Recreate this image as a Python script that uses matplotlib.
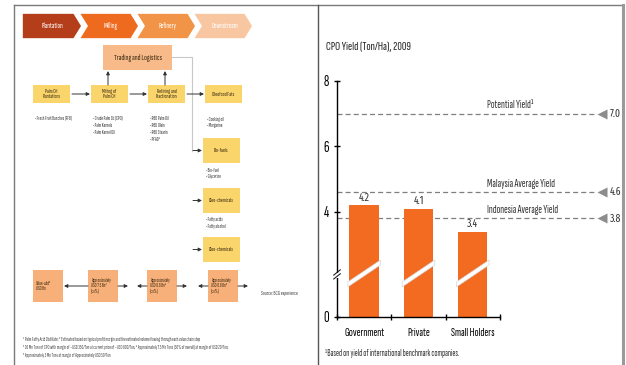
import matplotlib
matplotlib.use("Agg")
import matplotlib.pyplot as plt
import numpy as np
from matplotlib.patches import Polygon, Rectangle

plt.rcParams['font.family'] = ['Sofia Sans Extra Condensed', 'Fira Sans Extra Condensed', 'DejaVu Sans']
num_family = ['Fira Sans Extra Condensed', 'DejaVu Sans']

# ---- chart data -------------------------------------------------------
categories = ['Government', 'Private', 'Small Holders']
cpo_yield = [4.2, 4.1, 3.4]
ref_names = ['Potential Yield\u00b9', 'Malaysia Average Yield', 'Indonesia Average Yield']
ref_values = [7.0, 4.6, 3.8]
y_ticks = [0, 4, 6, 8]
y_tick_labels = ['0', '4', '6', '8']

# ---- value chain diagram content -------------------------------------
chain_stages = ['Plantation', 'Milling', 'Refinery', 'Downstream']
stage_colors = ['#B53E1A', '#EE6A1F', '#F29447', '#F8C6A0']
flow_boxes = ['Palm Oil\nPlantations', 'Milling of\nPalm Oil', 'Refining and\nFractionation', 'Oleofood Fats']
flow_bullets = [
    ['\u2022 Fresh Fruit Bunches (FFB)'],
    ['\u2022 Crude Palm Oil (CPO)', '\u2022 Palm Kernels', '\u2022 Palm Kernel Oil'],
    ['\u2022 RBD Palm Oil', '\u2022 RBD Olein', '\u2022 RBD Stearin', '\u2022 PFAD\u00b9'],
    ['\u2022 Cooking oil', '\u2022 Margarine'],
]
downstream_boxes = ['Bio-fuels', 'Oleo-chemicals', 'Oleo-chemicals']
downstream_bullets = [['\u2022 Bio-fuel', '\u2022 Glycerine'], ['\u2022 Fatty acids', '\u2022 Fatty alcohol'], []]
value_boxes = ['Value-add\u00b2\nUSD Bn', 'Approximately\nUSD 7.5 Bn\u00b3\n(x.x%)',
               'Approximately\nUSD 0.8 Bn\u2074\n(x.x%)', 'Approximately\nUSD 0.8 Bn\u2075\n(x.x%)']
diagram_notes = [
    '\u00b9 Palm Fatty Acid Distillate; \u00b2 Estimated based on typical profit margin and the estimated volume flowing through each value chain step',
    '\u00b3 20 Mn Tons of CPO with margin of ~USD 350/Ton at current price of ~USD 800/Ton; \u2074 Approximately 7.5 Mn Tons (30% of overall) at margin of USD 20/Ton;',
    '\u2075 Approximately 3 Mn Tons at margin of Approximately USD 50/Ton',
]

W, H = 626, 365
fig = plt.figure(figsize=(W / 100, H / 100), dpi=100)
fig.patch.set_facecolor('white')

# background canvas in pixel units for the frame and the diagram
bg = fig.add_axes([0, 0, 1, 1])
bg.set_xlim(0, W)
bg.set_ylim(H, 0)
bg.axis('off')

frame_col = '#7a7a7a'
bg.plot([14, 623], [4.5, 4.5], color=frame_col, lw=1.0)
bg.plot([14, 14], [4.5, H], color=frame_col, lw=1.0)
bg.plot([318, 318], [4.5, H], color='#555555', lw=1.0)
bg.plot([622.5, 622.5], [4.5, H], color='#9a9a9a', lw=2.2)

# stage chevrons
top, bot = 13, 39
mid = (top + bot) / 2
for i, (name, col) in enumerate(zip(chain_stages, stage_colors)):
    x0 = 22 + 57 * i
    x1 = x0 + 52
    d = 8
    if i == 0:
        pts = [(x0, top), (x1, top), (x1 + d, mid), (x1, bot), (x0, bot)]
    else:
        pts = [(x0, top), (x1, top), (x1 + d, mid), (x1, bot), (x0, bot), (x0 + d, mid)]
    bg.add_patch(Polygon(pts, closed=True, facecolor=col, edgecolor='white', lw=1.2))
    bg.text((x0 + x1 + d) / 2 + (2 if i else 0), mid, name, color='white', fontsize=5.5,
            fontweight='bold', ha='center', va='center')

yellow = '#FAD56C'
peach = '#F9BA8A'
value_col = '#F8B07A'
txt_col = '#3a2a10'
arrow_kw = dict(arrowstyle='-|>', color='#333333', lw=0.7, mutation_scale=5, shrinkA=0, shrinkB=0)

# trading and logistics
bg.add_patch(Rectangle((103, 45), 69, 25, facecolor=peach, edgecolor='none'))
bg.text(137.5, 57.5, 'Trading and Logistics', fontsize=6, ha='center', va='center', color=txt_col)

# main flow row
row_x = [33, 91, 148, 205]
for i, (x, label) in enumerate(zip(row_x, flow_boxes)):
    bg.add_patch(Rectangle((x, 85), 37, 18, facecolor=yellow, edgecolor='none'))
    bg.text(x + 18.5, 94, label, fontsize=4.2, ha='center', va='center', color=txt_col,
            fontweight='bold', linespacing=1.0)
    for j, b in enumerate(flow_bullets[i]):
        bg.text(x + 2, 119 + 6.8 * j, b, fontsize=3.6, ha='left', va='center', color='#333333')
    if i < 3:
        bg.annotate('', xy=(row_x[i + 1] - 1, 94), xytext=(x + 39, 94), arrowprops=arrow_kw)

# links up to trading
for x in (108, 165):
    bg.annotate('', xy=(x, 71), xytext=(x, 85), arrowprops=arrow_kw)
bg.plot([172, 192, 192], [57, 57, 151], color='#c8c8c8', lw=0.8)

# downstream boxes
down_y = [138, 188, 237]
for k, (yy, label) in enumerate(zip(down_y, downstream_boxes)):
    bg.add_patch(Rectangle((203, yy), 37, 25, facecolor=yellow, edgecolor='none'))
    bg.text(221.5, yy + 12.5, label, fontsize=4.2, ha='center', va='center', color=txt_col,
            fontweight='bold')
    bg.annotate('', xy=(202, yy + 12.5), xytext=(193, yy + 12.5), arrowprops=arrow_kw)
    for j, b in enumerate(downstream_bullets[k]):
        bg.text(206, yy + 32 + 6.8 * j, b, fontsize=3.6, ha='left', va='center', color='#333333')

# value-add row
val_x = [33, 88, 147, 208]
for i, (x, label) in enumerate(zip(val_x, value_boxes)):
    bg.add_patch(Rectangle((x, 270), 30, 32, facecolor=value_col, edgecolor='none'))
    bg.text(x + 3, 286, label, fontsize=3.6, ha='left', va='center', color=txt_col,
            linespacing=1.2)
bg.annotate('', xy=(64, 286), xytext=(88, 286), arrowprops=arrow_kw)
for x in (118, 177, 238):
    bg.annotate('', xy=(x + 10, 286), xytext=(x, 286), arrowprops=arrow_kw)
for x in (147, 208):
    bg.annotate('', xy=(x - 10, 286), xytext=(x, 286), arrowprops=arrow_kw)
bg.text(261, 293, 'Source: BCG experience', fontsize=4, ha='left', va='center', color='#444444')

for j, note in enumerate(diagram_notes):
    bg.text(23, 339 + 8 * j, note, fontsize=3.5, ha='left', va='center', color='#444444')

# ---- CPO yield chart -------------------------------------------------
# compressed lower range for the broken value axis
def fwd(y):
    y = np.asarray(y, dtype=float)
    return np.where(y < 2, 0.79 + 0.605 * y, y)


def inv(v):
    v = np.asarray(v, dtype=float)
    return np.where(v < 2, (v - 0.79) / 0.605, v)


ax = fig.add_axes([337 / W, (H - 317) / H, (W - 337) / W, 244.2 / H])
ax.set_facecolor('none')
ax.set_yscale('function', functions=(fwd, inv))
ax.set_ylim(0, 8.25)
ax.set_xlim(-0.5, 4.82)

x = np.arange(len(categories))
bar_w = 0.54
bar_col = '#F26B21'
ax.bar(x, cpo_yield, width=bar_w, color=bar_col, zorder=2)
for xi, v in zip(x, cpo_yield):
    ax.annotate(f'{v:.1f}', (xi, v), xytext=(0, 1.5), textcoords='offset points',
                ha='center', va='bottom', fontsize=7.5, color='#333333', family=num_family)

# break bands across the bars
for xi in x:
    xl, xr = xi - bar_w / 2 - 0.03, xi + bar_w / 2 + 0.03
    band = [(xl, 1.52), (xr, 2.38), (xr, 2.53), (xl, 1.77)]
    ax.add_patch(Polygon(band, closed=True, facecolor='white', edgecolor='#d6d6d6',
                         lw=0.5, zorder=3, clip_on=False))

# reference lines
for name, v in zip(ref_names, ref_values):
    ax.hlines(v, -0.5, 4.29, colors='#7f7f7f', linestyles=(0, (4, 2.5)), lw=0.9,
              zorder=1, clip_on=False)
    ax.plot(4.37, v, marker='<', ms=7.5, color='#8c8c8c', mec='none', clip_on=False, zorder=4)
    ax.text(4.52, v, f'{v:.1f}', ha='left', va='center', fontsize=7.5, color='#333333',
            clip_on=False, family=num_family)
    ax.annotate(name, (2.27, v), xytext=(0, 2.5), textcoords='offset points',
                ha='left', va='bottom', fontsize=8, color='#333333')

# axes styling
for s in ('top', 'right'):
    ax.spines[s].set_visible(False)
ax.spines['left'].set_bounds(0, 8)
ax.spines['bottom'].set_bounds(-0.5, 2.5)
ax.spines['left'].set_linewidth(1.0)
ax.spines['bottom'].set_linewidth(1.0)
ax.set_yticks(y_ticks, y_tick_labels)
ax.tick_params(axis='y', direction='inout', length=4, width=1, labelsize=11, pad=4)
ax.set_xticks(x, categories)
ax.set_xticks([-0.5, 0.5, 1.5, 2.5], minor=True)
ax.tick_params(axis='x', which='major', length=0, labelsize=8.5, pad=8)
ax.tick_params(axis='x', which='minor', direction='inout', length=5, width=1)

# axis break marks
ax.add_patch(Rectangle((-0.53, 1.95), 0.06, 0.17, facecolor='white', edgecolor='none',
                       zorder=5, clip_on=False))
for y0, y1 in ((1.92, 2.11), (2.07, 2.23)):
    ax.plot([-0.56, -0.44], [y0, y1], color='#222222', lw=0.8, zorder=6, clip_on=False)

fig.text(326 / W, 1 - 47 / H, 'CPO Yield (Ton/Ha), 2009', fontsize=9, ha='left', va='center',
         color='#222222')
fig.text(325 / W, 1 - 353 / H, '\u00b9Based on yield of international benchmark companies.',
         fontsize=6.5, ha='left', va='center', color='#333333')

fig.savefig('out.png', dpi=100, facecolor='white')
